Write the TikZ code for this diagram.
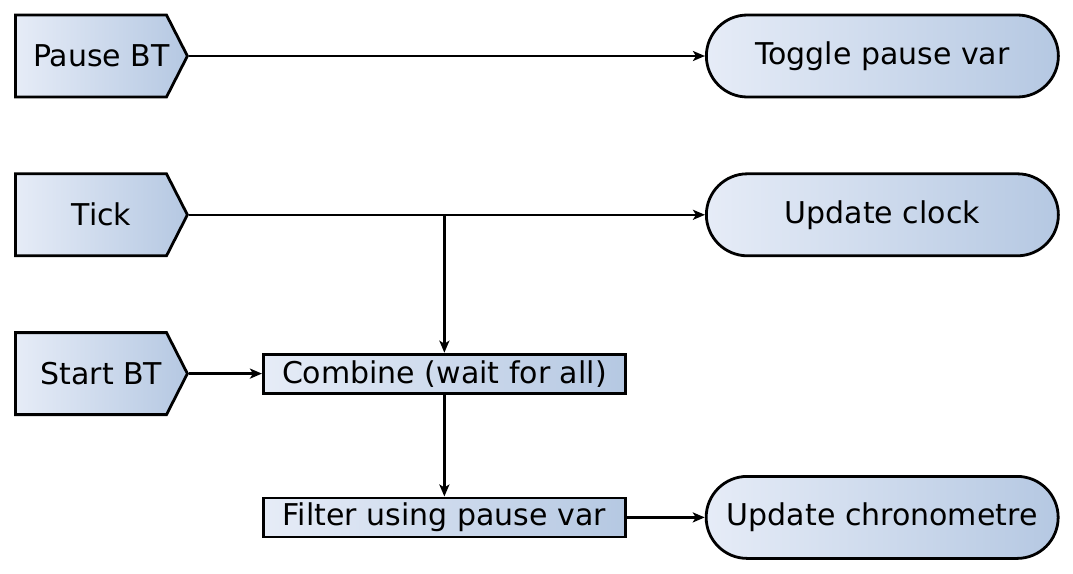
\documentclass[tikz,border=0pt]{standalone}
\usepackage{fontspec}
\setmainfont{DejaVu Sans}
\usepackage{xcolor}
\usepackage{tikz}
\usetikzlibrary{arrows.meta, positioning, shapes.symbols, shapes.misc}

\definecolor{shadeL}{HTML}{E6ECF7}
\definecolor{shadeR}{HTML}{B5C8E2}

% text of an event, centred on the whole shape (pointer included)
\newcommand{\evtext}[1]{\hspace*{10.5pt}\makebox[65pt]{#1}}

\begin{document}
\begin{tikzpicture}[
  x=0.5pt, y=-0.5pt,
  every node/.style = {font=\fontsize{15pt}{18pt}\selectfont},
  event/.style = {
    signal, signal to=east, signal pointer angle=126,
    draw=black, line width=1.4pt,
    left color=shadeL, right color=shadeR,
    minimum width=86pt, minimum height=41pt, inner sep=0pt
  },
  action/.style = {
    rounded rectangle, draw=black, line width=1.4pt,
    left color=shadeL, right color=shadeR,
    minimum width=176pt, minimum height=41pt, inner sep=0pt
  },
  operator/.style = {
    rectangle, draw=black, line width=1.4pt,
    left color=shadeL, right color=shadeR,
    minimum width=181pt, minimum height=19.5pt, inner sep=0pt
  },
  arr/.style = {-{Stealth[length=6pt, width=5pt, inset=1.5pt]}, line width=1.2pt}
]
\useasboundingbox (0,0) rectangle (1073,574);

% Events
\node[event, anchor=west] (pause) at (14,56) {\evtext{Pause BT}};
\node[event, below=37pt of pause] (tick) {\evtext{Tick}};
\node[event, below=37pt of tick] (start) {\evtext{Start BT}};

% Stream operators
\node[operator, right=36.5pt of start] (combine) {Combine (wait for all)};
\node[operator, below=51pt of combine] (filter) {Filter using pause var};

% Actions
\node[action, right=258pt of pause] (toggle) {Toggle pause var};
\node[action, right=258pt of tick] (clock) {Update clock};
\node[action, right=39pt of filter] (chrono) {Update chronometre};

% Arrows
\draw[arr] (pause.east) -- (toggle.west);
\draw[arr] (tick.east) -- (clock.west);
\draw[arr] (tick.east -| combine.north) -- (combine.north);
\draw[arr] (start.east) -- (combine.west);
\draw[arr] (combine.south) -- (filter.north);
\draw[arr] (filter.east) -- (chrono.west);

\end{tikzpicture}
\end{document}
